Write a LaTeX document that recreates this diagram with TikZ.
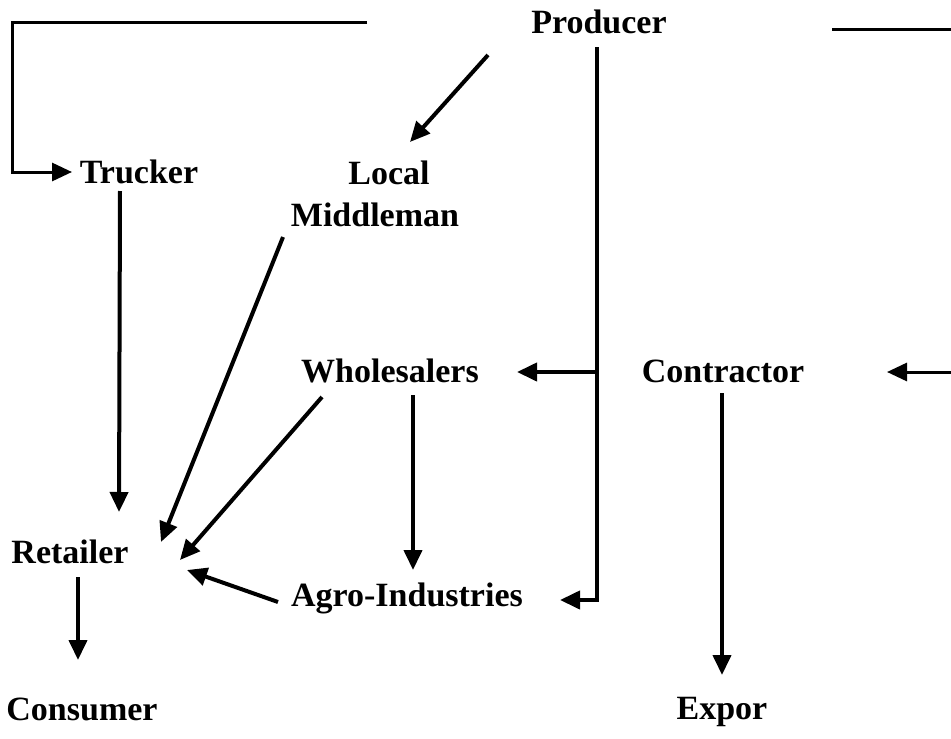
\documentclass[tikz,border=0pt]{standalone}
\usepackage{fontspec}
\setmainfont{Liberation Serif}
\usetikzlibrary{arrows.meta,calc}
\begin{document}
\begin{tikzpicture}[x=1pt,y=-1pt,
  lbl/.style={inner sep=0pt,anchor=base,font=\fontsize{34}{42}\selectfont\bfseries},
  thin/.style={line width=3pt},
  arr/.style={line width=4pt,-{Triangle[length=20pt,width=18pt]}},
  arrt/.style={line width=3pt,-{Triangle[length=20pt,width=18pt]}}]
\useasboundingbox (0,0) rectangle (951,739);
\node[lbl] (prod) at (599,33) {Producer};
\node[lbl] (truck) at (139,183) {Trucker};
\node[inner sep=0pt,anchor=north,align=center,font=\fontsize{34}{42}\selectfont\bfseries] (lm) at (375,161) {\hspace*{28pt}Local\\Middleman};
\node[lbl] (whole) at (390,382) {Wholesalers};
\node[lbl] (contr) at (723,382) {Contractor};
\node[lbl] (ret) at (70,563) {Retailer};
\node[lbl] (agro) at (407,606) {Agro-Industries};
\node[lbl] (cons) at (82,720) {Consumer};
\node[lbl] (expor) at (722,719) {Expor};
\coordinate (tl) at (367,22);
\coordinate (tr1) at (832,29);
\coordinate (tr2) at (951,29);
\coordinate (re) at (951,372);
% top-left bracket to Trucker
\draw[arrt] (tl) -| ($(truck.base)+(-127,-11)$) -- ($(truck.base)+(-67,-11)$);
% top-right line
\draw[thin] (tr1) -- (tr2);
% right arrow into Contractor
\draw[arrt] (re) -- ($(contr.base)+(164,-10)$);
% Producer -> Local Middleman
\draw[arr] ($(prod.base)+(-111,22)$) -- ($(lm.north)+(35,-19)$);
% Producer trunk -> Agro-Industries
\draw[arr] ($(prod.base)+(-2,14)$) |- ($(agro.base)+(153,-6)$);
% branch -> Wholesalers
\draw[arr] ($(prod.base |- whole.base)+(-2,-10)$) -- ($(whole.base)+(127,-10)$);
% Local Middleman -> Retailer
\draw[arr] ($(lm.north)+(-92,76)$) -- ($(ret.base)+(91,-21)$);
% Wholesalers -> Retailer
\draw[arr] ($(whole.base)+(-68,15)$) -- ($(ret.base)+(110,-3)$);
% Agro-Industries -> Retailer
\draw[arr] ($(agro.base)+(-129,-4)$) -- ($(ret.base)+(117,7)$);
% Wholesalers -> Agro-Industries
\draw[arr] ($(whole.base)+(23,13)$) -- ($(agro.base)+(6,-36)$);
% Trucker -> Retailer
\draw[arr] ($(truck.base)+(-19,8)$) -- ($(ret.base)+(49,-51)$);
% Retailer -> Consumer
\draw[arr] ($(ret.base)+(8,14)$) -- ($(cons.base)+(-4,-60)$);
% Contractor -> Expor
\draw[arr] ($(contr.base)+(-1,11)$) -- ($(expor.base)+(0,-44)$);
\end{tikzpicture}
\end{document}
